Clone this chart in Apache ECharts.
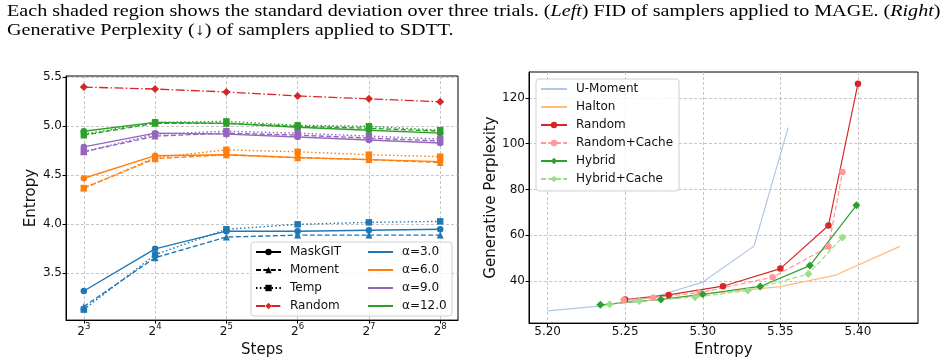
<!DOCTYPE html>
<html>
<head>
<meta charset="utf-8">
<script src="https://cdn.jsdelivr.net/npm/echarts@6/dist/echarts.min.js"></script>
<style>
  html, body { margin: 0; padding: 0; background: #fff; }
  #chart { width: 948px; height: 363px; }
</style>
</head>
<body>
<div id="chart"></div>
<script>
// ---- left panel: entropy vs steps (x = log2 of steps) ----
const stepExps = [3, 4, 5, 6, 7, 8];
const alphaNames = ['α=3.0', 'α=6.0', 'α=9.0', 'α=12.0'];
const maskgit = [
    [3.32, 3.75, 3.93, 3.93, 3.94, 3.95],
    [4.47, 4.70, 4.71, 4.68, 4.66, 4.64],
    [4.79, 4.93, 4.92, 4.89, 4.86, 4.83],
    [4.95, 5.04, 5.03, 4.99, 4.96, 4.93]
];
const moment = [
    [3.16, 3.66, 3.87, 3.89, 3.89, 3.89],
    [4.37, 4.67, 4.71, 4.68, 4.66, 4.63],
    [4.74, 4.90, 4.93, 4.91, 4.88, 4.85],
    [4.91, 5.03, 5.03, 5.00, 4.98, 4.95]
];
const temp = [
    [3.13, 3.69, 3.95, 4.00, 4.02, 4.03],
    [4.37, 4.68, 4.76, 4.74, 4.71, 4.69],
    [4.74, 4.92, 4.95, 4.93, 4.90, 4.87],
    [4.92, 5.04, 5.05, 5.01, 5.00, 4.96]
];
const randomEntropy = [5.40, 5.38, 5.35, 5.31, 5.28, 5.25];
const leftYTicks = [3.5, 4.0, 4.5, 5.0, 5.5];

// ---- right panel: gen. perplexity vs entropy ----
const uMomentEnt = [5.200, 5.235, 5.268, 5.300, 5.333, 5.355];
const uMomentPpl = [27.0, 29.2, 33.0, 39.6, 55.3, 107.0];
const haltonEnt = [5.240, 5.275, 5.310, 5.350, 5.385, 5.427];
const haltonPpl = [30.0, 32.3, 35.0, 37.6, 42.5, 55.2];
const randomEnt = [5.250, 5.278, 5.313, 5.350, 5.381, 5.400];
const randomPpl = [32.0, 34.0, 37.8, 45.5, 64.3, 126.2];
const randomCacheEnt = [5.249, 5.268, 5.298, 5.345, 5.381, 5.390];
const randomCachePpl = [31.8, 32.8, 35.0, 41.7, 55.0, 87.6];
const hybridEnt = [5.234, 5.273, 5.300, 5.337, 5.369, 5.399];
const hybridPpl = [29.7, 32.0, 34.3, 37.7, 46.8, 73.1];
const hybridCacheEnt = [5.240, 5.259, 5.295, 5.329, 5.368, 5.390];
const hybridCachePpl = [29.9, 31.3, 33.0, 35.9, 43.1, 59.1];
const rightXTicks = [5.20, 5.25, 5.30, 5.35, 5.40];
const rightYTicks = [40, 60, 80, 100, 120];

const FONT = 'DejaVu Sans';
const TXT = '#111';
const alphaColors = ['#1f77b4', '#ff7f0e', '#9467bd', '#2ca02c'];
const DASH = [5, 2.4];
const DOT = [1.5, 2.4];
const DASHDOT = [9, 2.4, 1.5, 2.4];

const chart = echarts.init(document.getElementById('chart'), null, { renderer: 'canvas' });

// caption: stretch horizontally to the width seen in the picture
const capFont = '17px "Liberation Serif"';
const ctx = document.createElement('canvas').getContext('2d');
function w(t, it) {
    ctx.font = (it ? 'italic ' : '') + capFont;
    return ctx.measureText(t).width;
}
const line1Width = w('Each shaded region shows the standard deviation over three trials. (') + w('Left', true) +
    w(') FID of samplers applied to MAGE. (') + w('Right', true) + w(')');
const capScale = 933.5 / line1Width;

function pairs(xs, ys) { return xs.map((x, i) => [x, ys[i]]); }

const methods = [
    { name: 'MaskGIT', vals: maskgit, dash: 'solid', symbol: 'circle', size: 6.5 },
    { name: 'Moment', vals: moment, dash: DASH, symbol: 'triangle', size: 7 },
    { name: 'Temp', vals: temp, dash: DOT, symbol: 'rect', size: 6.5 }
];

const series = [];
methods.forEach(m => {
    m.vals.forEach((vals, a) => {
        series.push({
            name: m.name + ' ' + alphaNames[a], type: 'line', xAxisIndex: 0, yAxisIndex: 0,
            data: pairs(stepExps, vals), symbol: m.symbol, symbolSize: m.size,
            itemStyle: { color: alphaColors[a] },
            lineStyle: { color: alphaColors[a], width: 1.4, type: m.dash }
        });
    });
    // legend only entry
    series.push({
        name: m.name, type: 'line', xAxisIndex: 0, yAxisIndex: 0, data: [],
        symbol: m.symbol, symbolSize: m.size,
        itemStyle: { color: '#000' }, lineStyle: { color: '#000', width: 1.3, type: m.dash }
    });
});
series.push({
    name: 'Random', type: 'line', xAxisIndex: 0, yAxisIndex: 0, data: pairs(stepExps, randomEntropy),
    symbol: 'diamond', symbolSize: 8, itemStyle: { color: '#d62728' },
    lineStyle: { color: '#d62728', width: 1.3, type: DASHDOT }
});
alphaNames.forEach((n, a) => {
    series.push({
        name: n, type: 'line', xAxisIndex: 0, yAxisIndex: 0, data: [], symbol: 'none',
        itemStyle: { color: alphaColors[a] }, lineStyle: { color: alphaColors[a], width: 1.3 }
    });
});

const rightSeries = [
    { name: 'R:U-Moment', xs: uMomentEnt, ys: uMomentPpl, color: '#aec7e8', dash: 'solid', symbol: 'none', size: 0 },
    { name: 'R:Halton', xs: haltonEnt, ys: haltonPpl, color: '#ffbb78', dash: 'solid', symbol: 'none', size: 0 },
    { name: 'R:Random', xs: randomEnt, ys: randomPpl, color: '#d62728', dash: 'solid', symbol: 'circle', size: 6.5 },
    { name: 'R:Random+Cache', xs: randomCacheEnt, ys: randomCachePpl, color: '#ff9896', dash: DASH, symbol: 'circle', size: 6.5 },
    { name: 'R:Hybrid', xs: hybridEnt, ys: hybridPpl, color: '#2ca02c', dash: 'solid', symbol: 'diamond', size: 8 },
    { name: 'R:Hybrid+Cache', xs: hybridCacheEnt, ys: hybridCachePpl, color: '#98df8a', dash: DASH, symbol: 'diamond', size: 8 }
];
rightSeries.forEach(s => {
    series.push({
        name: s.name, type: 'line', xAxisIndex: 1, yAxisIndex: 1, data: pairs(s.xs, s.ys),
        symbol: s.symbol, symbolSize: s.size, showSymbol: s.symbol !== 'none',
        itemStyle: { color: s.color }, lineStyle: { color: s.color, width: 1.2, type: s.dash }
    });
});

// legend entries: hide the marker where the line has none
const noMark = { itemStyle: { opacity: 0 } };
const legendItems = (names, marked) => names.map(n => marked(n) ? { name: n } : Object.assign({ name: n }, noMark));

const gridLine = { show: true, lineStyle: { color: '#b8b8b8', width: 0.8, type: [3, 2] } };
const axisLine = { show: true, lineStyle: { color: '#000', width: 1 } };
const tick = vals => ({ show: true, length: 3.5, inside: false, customValues: vals, lineStyle: { color: '#000' } });
const legendText = { fontFamily: FONT, fontSize: 12, color: TXT, lineHeight: 14, padding: [0, 0, 0, 4] };

const option = {
    animation: false,
    backgroundColor: '#fff',
    grid: [
        { left: 66, top: 76, width: 392, height: 247, show: true, borderColor: '#000', borderWidth: 1 },
        { left: 529, top: 72, width: 389, height: 252, show: true, borderColor: '#000', borderWidth: 1 }
    ],
    xAxis: [
        {
            type: 'value', gridIndex: 0, min: 2.75, max: 8.25,
            axisLine, axisTick: tick(stepExps), splitLine: gridLine,
            axisLabel: {
                customValues: stepExps, margin: 2, color: TXT, fontFamily: FONT,
                formatter: v => '{b|2}{s|' + v + '}',
                rich: {
                    b: { fontSize: 12, lineHeight: 16, fontFamily: FONT, color: TXT, verticalAlign: 'bottom' },
                    s: { fontSize: 8.5, lineHeight: 7, fontFamily: FONT, color: TXT, verticalAlign: 'top' }
                }
            },
            name: 'Steps', nameLocation: 'middle', nameGap: 15,
            nameTextStyle: { fontFamily: FONT, fontSize: 15, color: TXT, verticalAlign: 'top' }
        },
        {
            type: 'value', gridIndex: 1, min: 5.188, max: 5.4387,
            axisLine, axisTick: tick(rightXTicks), splitLine: gridLine,
            axisLabel: {
                customValues: rightXTicks, margin: 3, color: TXT, fontFamily: FONT, fontSize: 12,
                formatter: v => v.toFixed(2)
            },
            name: 'Entropy', nameLocation: 'middle', nameGap: 15,
            nameTextStyle: { fontFamily: FONT, fontSize: 15, color: TXT, verticalAlign: 'top' }
        }
    ],
    yAxis: [
        {
            type: 'value', gridIndex: 0, min: 3.023, max: 5.513,
            axisLine, axisTick: tick(leftYTicks), splitLine: gridLine,
            axisLabel: {
                customValues: leftYTicks, margin: 4, color: TXT, fontFamily: FONT, fontSize: 12,
                formatter: v => v.toFixed(1)
            },
            name: 'Entropy', nameLocation: 'middle', nameGap: 24,
            nameTextStyle: { fontFamily: FONT, fontSize: 15, color: TXT }
        },
        {
            type: 'value', gridIndex: 1, min: 21.7, max: 131.3,
            axisLine, axisTick: tick(rightYTicks), splitLine: gridLine,
            axisLabel: {
                customValues: rightYTicks, margin: 4, color: TXT, fontFamily: FONT, fontSize: 12
            },
            name: 'Generative Perplexity', nameLocation: 'middle', nameGap: 26,
            nameTextStyle: { fontFamily: FONT, fontSize: 15, color: TXT }
        }
    ],
    legend: [
        {
            data: ['MaskGIT', 'Moment', 'Temp', 'Random'], orient: 'vertical',
            left: 255, top: 245, itemWidth: 25, itemHeight: 8, itemGap: 4, padding: 0,
            textStyle: legendText, selectedMode: false
        },
        {
            data: legendItems(alphaNames, () => false), orient: 'vertical',
            left: 367, top: 245, itemWidth: 25, itemHeight: 8, itemGap: 4, padding: 0,
            textStyle: legendText, selectedMode: false
        },
        {
            data: legendItems(rightSeries.map(s => s.name), n => rightSeries.find(s => s.name === n).symbol !== 'none'),
            orient: 'vertical',
            left: 540, top: 82, itemWidth: 26, itemHeight: 8, itemGap: 4, padding: 0,
            textStyle: legendText, selectedMode: false,
            formatter: n => n.slice(2)
        }
    ],
    graphic: [
        {
            type: 'rect', z: 3, shape: { x: 251, y: 242, width: 201, height: 74, r: 3 },
            style: { fill: 'rgba(255,255,255,0.8)', stroke: '#d0d0d0', lineWidth: 1 }
        },
        {
            type: 'rect', z: 3, shape: { x: 536, y: 79, width: 143, height: 112, r: 3 },
            style: { fill: 'rgba(255,255,255,0.8)', stroke: '#d0d0d0', lineWidth: 1 }
        },
        {
            type: 'text', x: 7, y: 11.5, scaleX: capScale, z: 5,
            style: {
                text: 'Each shaded region shows the standard deviation over three trials. ({it|Left}) FID of samplers applied to MAGE. ({it|Right})',
                font: capFont, fill: '#000', verticalAlign: 'middle',
                rich: { it: { fontStyle: 'italic', fontFamily: 'Liberation Serif', fontSize: 17 } }
            }
        },
        {
            type: 'text', x: 7, y: 31, scaleX: capScale, z: 5,
            style: {
                text: 'Generative Perplexity (↓) of samplers applied to SDTT.',
                font: capFont, fill: '#000', verticalAlign: 'middle'
            }
        }
    ],
    series: series
};
chart.setOption(option);
window.addEventListener('resize', () => chart.resize());
</script>
</body>
</html>
